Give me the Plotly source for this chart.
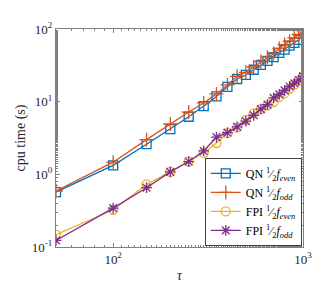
import plotly.graph_objects as go

tau = [50, 100, 150, 200, 250, 300, 350, 400, 450, 500, 550, 600, 650, 700, 750, 800, 850, 900, 950, 1000]
qn_even = [0.57, 1.33, 2.6, 4.2, 6.2, 8.7, 11.8, 16.0, 20.5, 23.3, 27.5, 32, 36.4, 41, 47, 52, 59, 64.6, 71, 85.5]
qn_odd = [0.59, 1.47, 3.0, 4.93, 7.2, 9.6, 12.8, 17, 22.3, 25.3, 30, 35.7, 41, 46, 54, 61, 68, 75.5, 84, 95]
fpi_even = [0.148, 0.325, 0.726, 1.08, 1.5, 1.97, 2.7, 3.68, 4.44, 5.6, 6.9, 7.9, 8.9, 9.9, 11.6, 13.1, 15.0, 17.2, 19.5, 22.3]
fpi_odd = [0.123, 0.343, 0.655, 1.08, 1.5, 2.1, 3.25, 3.75, 4.5, 5.4, 6.5, 7.9, 9.1, 11.3, 12.6, 14.3, 16.2, 17.9, 19.9, 22.3]

names = [
    "QN <sup>1</sup>&#8260;<sub>2</sub><i>f<sub>even</sub></i>",
    "QN <sup>1</sup>&#8260;<sub>2</sub><i>f<sub>odd</sub></i>",
    "FPI <sup>1</sup>&#8260;<sub>2</sub><i>f<sub>even</sub></i>",
    "FPI <sup>1</sup>&#8260;<sub>2</sub><i>f<sub>odd</sub></i>",
]
series = [qn_even, qn_odd, fpi_even, fpi_odd]
colors = ["#0072BD", "#D95319", "#EDB120", "#7E2F8E"]
symbols = ["square-open", "cross-thin-open", "circle-open", "asterisk-open"]
sizes = [9, 10, 9, 9]

x_ticks = [100, 1000]
x_ticktext = ["10<sup>2</sup>", "10<sup>3</sup>"]
y_ticks = [0.1, 1, 10, 100]
y_ticktext = ["10<sup>-1</sup>", "10<sup>0</sup>", "10<sup>1</sup>", "10<sup>2</sup>"]

fig = go.Figure()
for name, ys, c, s, sz in zip(names, series, colors, symbols, sizes):
    fig.add_trace(go.Scatter(
        x=tau, y=ys, name=name, mode="lines+markers",
        line=dict(color=c, width=1.3),
        marker=dict(symbol=s, size=sz, color=c, line=dict(color=c, width=1.3)),
    ))

axis_common = dict(
    type="log", showline=True, mirror="allticks", linecolor="#808080", linewidth=1,
    ticks="inside", ticklen=4, tickcolor="#808080", showgrid=False, zeroline=False,
    tickfont=dict(family="Liberation Serif", size=13, color="#262626"),
    minor=dict(ticks="inside", ticklen=2, tickcolor="#808080", showgrid=False),
)

fig.update_layout(
    width=327, height=284,
    margin=dict(l=44, r=32, t=21, b=42),
    paper_bgcolor="white", plot_bgcolor="white",
    font=dict(family="Liberation Serif", size=13, color="#262626"),
    showlegend=True,
    legend=dict(
        x=0.995, y=0.005, xanchor="right", yanchor="bottom",
        bgcolor="white", bordercolor="#404040", borderwidth=1,
        font=dict(family="Liberation Serif", size=12, color="#000"),
        tracegroupgap=0, itemwidth=30,
    ),
)
fig.update_xaxes(**axis_common, range=[1.699, 3.0], tickvals=x_ticks, ticktext=x_ticktext,
                 title=dict(text="<i>τ</i>", standoff=4, font=dict(size=14)))
fig.update_yaxes(**axis_common, range=[-1, 2], tickvals=y_ticks, ticktext=y_ticktext,
                 title=dict(text="cpu time (s)", standoff=2, font=dict(size=14)))

fig.write_html("out.html")
